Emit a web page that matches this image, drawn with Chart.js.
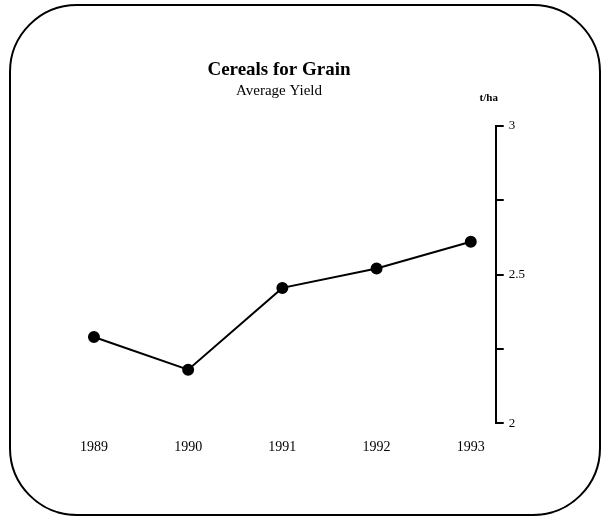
<!DOCTYPE html>
<html lang="en">
<head>
    <meta charset="UTF-8">
    <title>Cereals for Grain</title>
    <script src="https://cdn.jsdelivr.net/npm/chart.js"></script>
    <style>
        body {
            margin: 0;
            background: #fff;
        }
        .wrap {
            position: relative;
            width: 605px;
            height: 523px;
        }
        .frame {
            position: absolute;
            left: 9px;
            top: 4px;
            width: 588px;
            height: 508px;
            border: 2px solid #000;
            border-radius: 68px;
            pointer-events: none;
        }
        canvas {
            position: absolute;
            left: 0;
            top: 0;
        }
    </style>
</head>
<body>
    <div class="wrap">
        <canvas id="yieldChart" width="605" height="523"></canvas>
        <div class="frame"></div>
    </div>

    <script>
        // average yield, t/ha
        const years = [1989, 1990, 1991, 1992, 1993];
        const yields = [2.29, 2.18, 2.455, 2.52, 2.61];
        const yTickLabels = ['2', '2.5', '3'];

        const serif = "'Liberation Serif', 'Times New Roman', serif";

        // unit label above the right axis
        const unitLabel = {
            id: 'unitLabel',
            afterDraw(chart) {
                const y = chart.scales.y;
                const ctx = chart.ctx;
                ctx.save();
                ctx.font = 'bold 11px ' + serif;
                ctx.fillStyle = '#000';
                ctx.textAlign = 'center';
                ctx.textBaseline = 'middle';
                ctx.fillText('t/ha', y.left - 7, y.top - 28);
                ctx.restore();
            }
        };

        new Chart(document.getElementById('yieldChart'), {
            type: 'line',
            data: {
                datasets: [{
                    label: 'Average Yield',
                    data: years.map((yr, i) => ({ x: yr, y: yields[i] })),
                    borderColor: '#000',
                    backgroundColor: '#000',
                    borderWidth: 2,
                    pointRadius: 5,
                    pointBackgroundColor: '#000',
                    tension: 0
                }]
            },
            options: {
                responsive: false,
                animation: false,
                layout: {
                    padding: { left: 28, right: 75, top: 0, bottom: 51 }
                },
                plugins: {
                    legend: { display: false },
                    tooltip: { enabled: false },
                    title: {
                        display: true,
                        text: 'Cereals for Grain',
                        color: '#000',
                        font: { family: serif, size: 19, weight: 'bold' },
                        padding: { top: 59, bottom: 0 }
                    },
                    subtitle: {
                        display: true,
                        text: 'Average Yield',
                        color: '#000',
                        font: { family: serif, size: 15 },
                        padding: { top: 0, bottom: 26 }
                    }
                },
                scales: {
                    x: {
                        type: 'linear',
                        min: 1988.3,
                        max: 1993.265,
                        afterBuildTicks: s => { s.ticks = years.map(v => ({ value: v })); },
                        grid: { display: false, drawTicks: false },
                        border: { display: false },
                        ticks: {
                            color: '#000',
                            padding: 16,
                            font: { family: serif, size: 14 },
                            callback: v => String(v)
                        }
                    },
                    y: {
                        position: 'right',
                        min: 2,
                        max: 3,
                        grid: {
                            drawOnChartArea: false,
                            drawTicks: true,
                            tickLength: 8,
                            color: '#000',
                            lineWidth: 2
                        },
                        border: { display: true, color: '#000', width: 2 },
                        ticks: {
                            stepSize: 0.25,
                            color: '#000',
                            padding: 5,
                            font: { family: serif, size: 13 },
                            callback: v => {
                                const i = [2, 2.5, 3].indexOf(v);
                                return i >= 0 ? yTickLabels[i] : '';
                            }
                        }
                    }
                }
            },
            plugins: [unitLabel]
        });
    </script>
</body>
</html>
